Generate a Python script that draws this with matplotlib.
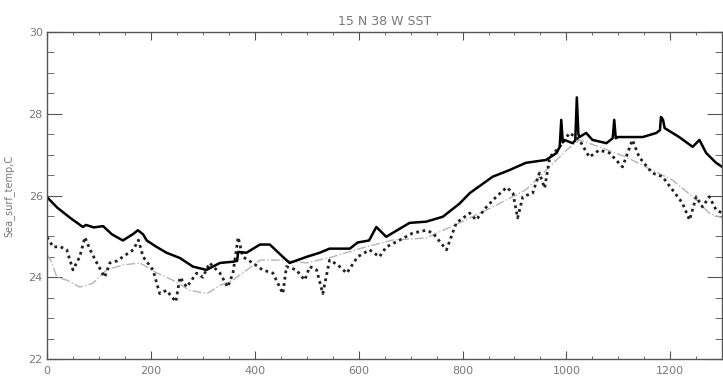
import numpy as np
import matplotlib
matplotlib.use("Agg")
import matplotlib.pyplot as plt
from matplotlib.ticker import MultipleLocator

# Data (day index vs SST in C)
obs_x = [0, 20, 45, 69, 75, 90, 108, 125, 146, 165, 175, 185, 192, 210, 230,
         256, 281, 307, 333, 358, 366, 368, 384, 410, 429, 454, 467, 500, 525, 544,
         583, 598, 620, 634, 653, 698, 730, 762, 794, 814, 858, 890, 922, 961, 981,
         987, 990, 993, 996, 1012, 1017, 1020, 1023, 1025, 1038, 1050, 1077, 1089, 1092, 1095,
         1099, 1147, 1173, 1180, 1182, 1186, 1189, 1217, 1243, 1256, 1269, 1288, 1300]
obs_y = [25.96, 25.7, 25.45, 25.23, 25.28, 25.22, 25.25, 25.05, 24.9, 25.05, 25.15, 25.05, 24.9, 24.75, 24.6,
         24.47, 24.26, 24.18, 24.35, 24.38, 24.4, 24.62, 24.6, 24.8, 24.8, 24.5, 24.35, 24.5, 24.6, 24.7,
         24.7, 24.85, 24.9, 25.23, 24.99, 25.33, 25.36, 25.48, 25.8, 26.06, 26.46, 26.62, 26.8, 26.87, 27.04,
         27.19, 27.85, 27.3, 27.36, 27.28, 27.35, 28.4, 27.5, 27.43, 27.53, 27.36, 27.28, 27.4, 27.85, 27.4,
         27.43, 27.43, 27.53, 27.6, 27.92, 27.85, 27.65, 27.43, 27.19, 27.36, 27.04, 26.8, 26.7]

mod_x = [0, 12, 25, 38, 50, 63, 73, 83, 96, 111, 121, 135, 146, 166, 176,
         185, 204, 217, 230, 248, 256, 269, 288, 300, 313, 333, 348, 358, 368, 377,
         396, 415, 435, 454, 461, 480, 496, 506, 519, 531, 544, 560, 577, 598, 621,
         640, 653, 679, 704, 730, 743, 769, 788, 814, 826, 846, 865, 885, 897, 906,
         916, 935, 948, 958, 968, 987, 1006, 1025, 1044, 1063, 1083, 1108, 1127, 1140, 1165,
         1185, 1204, 1223, 1237, 1250, 1262, 1275, 1288, 1300]
mod_y = [24.98, 24.74, 24.75, 24.67, 24.18, 24.5, 24.98, 24.67, 24.35, 24.0, 24.35, 24.4, 24.5, 24.67, 24.91,
         24.5, 24.18, 23.6, 23.68, 23.4, 24.0, 23.76, 24.1, 24.0, 24.35, 24.1, 23.76, 24.1, 24.98, 24.5,
         24.35, 24.18, 24.1, 23.6, 24.26, 24.18, 23.93, 24.26, 24.18, 23.6, 24.42, 24.3, 24.1, 24.5, 24.67,
         24.5, 24.74, 24.91, 25.08, 25.15, 25.08, 24.67, 25.33, 25.57, 25.4, 25.72, 25.97, 26.2, 26.06, 25.45,
         25.97, 26.06, 26.55, 26.18, 26.94, 27.19, 27.53, 27.36, 26.94, 27.11, 27.04, 26.7, 27.36, 26.94, 26.55,
         26.46, 26.14, 25.82, 25.4, 25.97, 25.72, 25.97, 25.65, 25.57]

clim_x = [0, 8, 19, 38, 63, 88, 115, 146, 179, 212, 242, 275, 308, 333, 358,
          385, 410, 454, 500, 550, 602, 665, 730, 794, 858, 922, 961, 1000, 1025, 1063,
          1115, 1165, 1204, 1243, 1275, 1300]
clim_y = [24.55, 24.4, 24.0, 23.93, 23.76, 23.85, 24.18, 24.3, 24.35, 24.1, 23.93, 23.68, 23.6, 23.8, 23.93,
          24.18, 24.42, 24.42, 24.35, 24.5, 24.7, 24.91, 24.96, 25.33, 25.72, 26.14, 26.62, 27.11, 27.36, 27.19,
          26.94, 26.62, 26.38, 25.97, 25.57, 25.45]

txt = '#777777'
fig = plt.figure(figsize=(7.23, 3.76), dpi=100)
ax = fig.add_axes([0.065, 0.0452, 0.934, 0.8697])

ax.plot(clim_x, clim_y, color='#b5b5b5', linestyle='-.', linewidth=1.0)
ax.plot(mod_x, mod_y, color='#222222', linestyle=(0, (1, 1.3)), linewidth=2.0)
ax.plot(obs_x, obs_y, color='black', linestyle='-', linewidth=1.8)

ax.set_xlim(0, 1300)
ax.set_ylim(22, 30)
ax.xaxis.set_major_locator(MultipleLocator(200))
ax.xaxis.set_minor_locator(MultipleLocator(50))
ax.yaxis.set_major_locator(MultipleLocator(2))
ax.yaxis.set_minor_locator(MultipleLocator(0.5))

ax.tick_params(axis='both', which='both', direction='in', top=True, right=True,
               colors='#555555', labelcolor=txt, labelsize=8)
ax.tick_params(axis='x', which='major', length=5.5, pad=5)
ax.tick_params(axis='x', which='minor', length=2.5)
ax.tick_params(axis='y', which='major', length=11, pad=3)
ax.tick_params(axis='y', which='minor', length=5)
for s in ax.spines.values():
    s.set_color('#555555')
    s.set_linewidth(1.0)

ax.set_title('15 N 38 W SST', color=txt, fontsize=9, pad=5)
ax.set_ylabel('Sea_surf_temp,C', color=txt, fontsize=7, labelpad=10)

fig.savefig('out.png', dpi=100)
